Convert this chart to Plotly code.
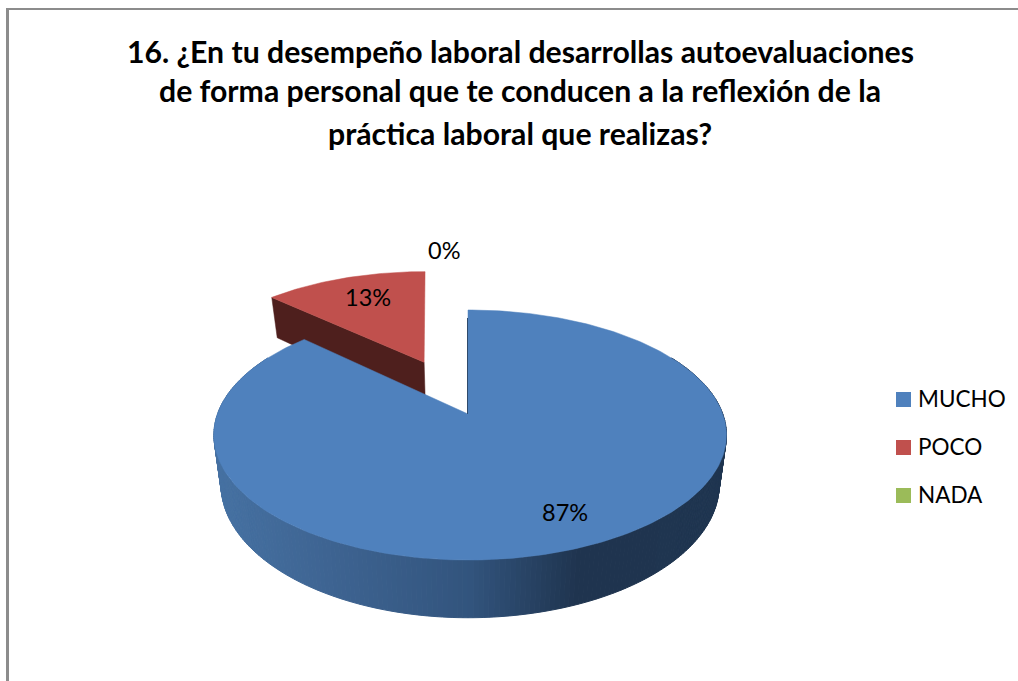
import math
import plotly.graph_objects as go

# ---- data ----
CATEGORIES = ["MUCHO", "POCO", "NADA"]
VALUES = [87, 13, 0]
COLORS = ["#4F81BD", "#C0504D", "#9BBB59"]
TITLE_LINES = [
    "16. ¿En tu desempeño laboral desarrollas autoevaluaciones",
    "de forma personal que te conducen a la reflexión de la",
    "práctica laboral que realizas?",
]

# ---- view of the pie (a disc seen in perspective) ----
W, H = 1018, 681
X0, Y0 = 468.0, 414.0
AX_LEFT, AX_RIGHT, AY = 250.5, 254.8, 121.5
PERSP = 0.168
DEPTH = 48.0
BASE_SCALE = 0.972
EXPLODE = 0.5
FONT = "Lato"


def project(X, Y, low=False, shear=False):
    d = 1 - PERSP * Y
    ax = AX_LEFT if X < 0 else AX_RIGHT
    dx = 2.3 + 5.3 * (Y + 0.459) if shear else 0.0
    if low:
        return X0 + dx + BASE_SCALE * ax * X / d, Y0 + (AY * Y + DEPTH) / d
    return X0 + dx + ax * X / d, Y0 + AY * Y / d


def disc(a_deg, r=1.0, off=(0.0, 0.0)):
    a = math.radians(a_deg)
    return off[0] + r * math.sin(a), off[1] - r * math.cos(a)


def arc(start, end, off=(0.0, 0.0), low=False, step=1.0, shear=False):
    n = max(2, int(abs(end - start) / step))
    pts = [project(*disc(start + (end - start) * i / n, 1.0, off), low, shear) for i in range(n + 1)]
    return pts


def lerp_color(x):
    stops = [(215, (70, 114, 163)), (330, (62, 100, 146)), (470, (50, 84, 125)), (575, (31, 52, 79)), (730, (31, 53, 80))]
    for (x1, c1), (x2, c2) in zip(stops, stops[1:]):
        if x <= x2:
            t = max(0, (x - x1) / (x2 - x1))
            return "rgb(%d,%d,%d)" % tuple(round(a + (b - a) * t) for a, b in zip(c1, c2))
    return "rgb(%d,%d,%d)" % stops[-1][1]


def poly(pts, color, line=0.0):
    xs = [p[0] for p in pts] + [pts[0][0]]
    ys = [p[1] for p in pts] + [pts[0][1]]
    return go.Scatter(x=xs, y=ys, mode="lines", fill="toself", fillcolor=color,
                      line=dict(color=color, width=line), hoverinfo="skip", showlegend=False)


total = sum(VALUES)
blue_end = 360.0 * VALUES[0] / total
red_end = blue_end + 360.0 * VALUES[1] / total
mid = (blue_end + red_end) / 2
off = disc(mid, EXPLODE)

fig = go.Figure()

# exploded slice: cut wall, then top
apex_t = project(*off, shear=True)
apex_b = project(*off, low=True, shear=True)
left_t = project(*disc(blue_end, 1.0, off), shear=True)
left_b = project(*disc(blue_end, 1.0, off), low=True, shear=True)
fig.add_trace(poly([left_t, apex_t, apex_b, left_b], "#4E1F1D", 0.5))
fig.add_trace(poly([apex_t] + arc(blue_end, red_end, off, shear=True), COLORS[1], 0.5))

# side of the big slice, shaded in narrow bands
a = 60.0
while a < 300.0:
    top = arc(a, a + 1.0, step=0.5)
    low = arc(a, a + 1.0, low=True, step=0.5)
    xm = (low[0][0] + low[-1][0]) / 2
    c = lerp_color(xm)
    fig.add_trace(poly(top + low[::-1], c, 1.0))
    a += 1.0

# top of the big slice
apex = project(0.0, 0.0)
fig.add_trace(poly([apex] + arc(0.0, blue_end), COLORS[0], 0.5))
fig.add_trace(go.Scatter(x=[apex[0] - 0.5, project(*disc(0.0))[0] - 0.5],
                         y=[apex[1], project(*disc(0.0))[1] + 8], mode="lines",
                         line=dict(color="#2F4A6B", width=1), hoverinfo="skip", showlegend=False))

# colour key
KEY_Y = [399.5, 447.5, 495.5]
fig.add_trace(go.Scatter(x=[903.5] * 3, y=KEY_Y, mode="markers",
                         marker=dict(symbol="square", size=15, color=COLORS, line_width=0),
                         hoverinfo="skip", showlegend=False))
fig.add_trace(go.Scatter(x=[918] * 3, y=[y + 2 for y in KEY_Y], mode="text", text=CATEGORIES,
                         textposition="middle right",
                         textfont=dict(family=FONT, size=22.5, color="#000000"),
                         hoverinfo="skip", showlegend=False))

annotations = []
TITLE_Y = [51, 89.5, 132.5]
for line, y in zip(TITLE_LINES, TITLE_Y):
    annotations.append(dict(x=520, y=y, xref="x", yref="y", text="<b>%s</b>" % line, showarrow=False,
                            font=dict(family=FONT, size=30.2, color="#000000"),
                            xanchor="center", yanchor="middle"))
LABEL_XY = [(565, 512), (368, 297), (444, 250)]
for v, (x, y) in zip(VALUES, LABEL_XY):
    annotations.append(dict(x=x, y=y, xref="x", yref="y", text="%d%%" % v, showarrow=False,
                            font=dict(family=FONT, size=23.5, color="#000000"),
                            xanchor="center", yanchor="middle"))

shapes = [
    dict(type="rect", xref="x", yref="y", x0=6, x1=9, y0=8, y1=681, fillcolor="#8C8C8C", line_width=0, layer="above"),
    dict(type="rect", xref="x", yref="y", x0=6, x1=1018, y0=8, y1=10, fillcolor="#8C8C8C", line_width=0, layer="above"),
]

fig.update_layout(
    width=W, height=H, autosize=False,
    margin=dict(l=0, r=0, t=0, b=0),
    paper_bgcolor="white", plot_bgcolor="white",
    xaxis=dict(range=[0, W], visible=False, fixedrange=True),
    yaxis=dict(range=[H, 0], visible=False, fixedrange=True),
    annotations=annotations, shapes=shapes,
    showlegend=False,
)

fig.write_html("out.html", config={"displayModeBar": False},
               post_script="document.body.style.margin='0';document.documentElement.style.overflow='hidden';")
